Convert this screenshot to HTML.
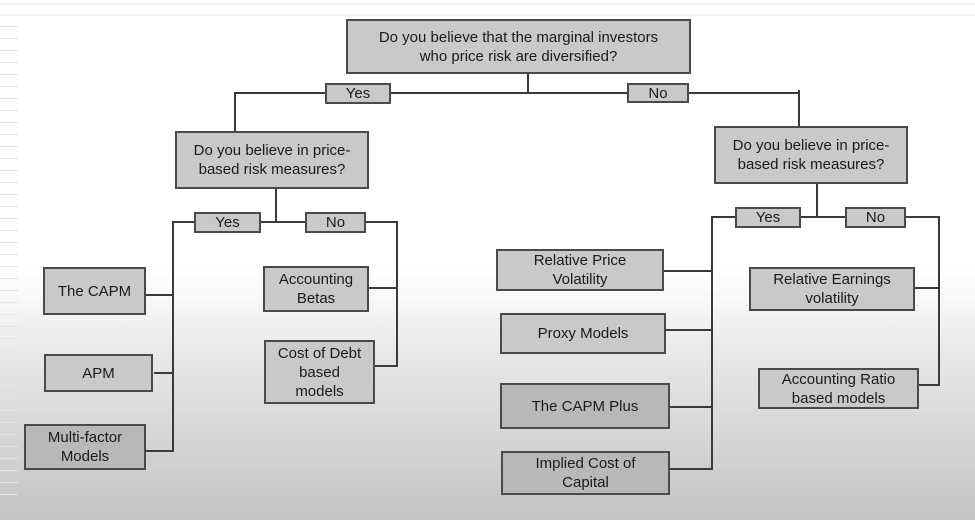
<!DOCTYPE html>
<html><head><meta charset="utf-8"><style>
html,body{margin:0;padding:0}
body{width:975px;height:520px;position:relative;overflow:hidden;font-family:"Liberation Sans",sans-serif;
background:linear-gradient(to bottom,#fff 0px,#fff 270px,#e2e2e2 380px,#c4c4c4 520px)}
.b{position:absolute;box-sizing:border-box;border:2px solid #4a4a4a;background:#c9c9c9;display:flex;align-items:center;justify-content:center;text-align:center;font-size:15px;line-height:19px;color:#1a1a1a}
.d{background:#b8b8b8}
.l{position:absolute;background:#3a3a3a}
.s{position:absolute;left:0;width:18px;height:1px;background:#e4e4e4}
</style></head><body>
<div style="position:absolute;left:0;top:3px;width:975px;height:2px;background:#efefef"></div>
<div style="position:absolute;left:0;top:14px;width:975px;height:2px;background:#f2f2f2"></div>
<div class="s" style="top:26px"></div><div class="s" style="top:38px"></div><div class="s" style="top:50px"></div><div class="s" style="top:62px"></div><div class="s" style="top:74px"></div><div class="s" style="top:86px"></div><div class="s" style="top:98px"></div><div class="s" style="top:110px"></div><div class="s" style="top:122px"></div><div class="s" style="top:134px"></div><div class="s" style="top:146px"></div><div class="s" style="top:158px"></div><div class="s" style="top:170px"></div><div class="s" style="top:182px"></div><div class="s" style="top:194px"></div><div class="s" style="top:206px"></div><div class="s" style="top:218px"></div><div class="s" style="top:230px"></div><div class="s" style="top:242px"></div><div class="s" style="top:254px"></div><div class="s" style="top:266px"></div><div class="s" style="top:278px"></div><div class="s" style="top:290px"></div><div class="s" style="top:302px"></div><div class="s" style="top:314px"></div><div class="s" style="top:326px"></div><div class="s" style="top:338px"></div><div class="s" style="top:350px"></div><div class="s" style="top:362px"></div><div class="s" style="top:374px"></div><div class="s" style="top:386px"></div><div class="s" style="top:398px"></div><div class="s" style="top:410px"></div><div class="s" style="top:422px"></div><div class="s" style="top:434px"></div><div class="s" style="top:446px"></div><div class="s" style="top:458px"></div><div class="s" style="top:470px"></div><div class="s" style="top:482px"></div><div class="s" style="top:494px"></div>

<!-- lines -->
<div class="l" style="left:527px;top:73px;width:2px;height:20px"></div>
<div class="l" style="left:234px;top:92px;width:566px;height:2px"></div>
<div class="l" style="left:234px;top:92px;width:2px;height:40px"></div>
<div class="l" style="left:798px;top:90px;width:2px;height:37px"></div>
<div class="l" style="left:798px;top:90px;width:2px;height:3px"></div>

<div class="l" style="left:275px;top:188px;width:2px;height:34px"></div>
<div class="l" style="left:172px;top:221px;width:225px;height:2px"></div>
<div class="l" style="left:172px;top:221px;width:2px;height:231px"></div>
<div class="l" style="left:396px;top:221px;width:2px;height:146px"></div>
<div class="l" style="left:145px;top:294px;width:28px;height:2px"></div>
<div class="l" style="left:154px;top:372px;width:19px;height:2px"></div>
<div class="l" style="left:145px;top:450px;width:29px;height:2px"></div>
<div class="l" style="left:368px;top:287px;width:29px;height:2px"></div>
<div class="l" style="left:374px;top:365px;width:23px;height:2px"></div>

<div class="l" style="left:816px;top:183px;width:2px;height:34px"></div>
<div class="l" style="left:712px;top:216px;width:228px;height:2px"></div>
<div class="l" style="left:711px;top:216px;width:2px;height:254px"></div>
<div class="l" style="left:938px;top:216px;width:2px;height:170px"></div>
<div class="l" style="left:663px;top:270px;width:49px;height:2px"></div>
<div class="l" style="left:665px;top:329px;width:47px;height:2px"></div>
<div class="l" style="left:669px;top:406px;width:43px;height:2px"></div>
<div class="l" style="left:669px;top:468px;width:43px;height:2px"></div>
<div class="l" style="left:914px;top:287px;width:25px;height:2px"></div>
<div class="l" style="left:918px;top:384px;width:21px;height:2px"></div>

<!-- boxes -->
<div class="b" style="left:346px;top:19px;width:345px;height:55px">Do you believe that the marginal investors<br>who price risk are diversified?</div>
<div class="b" style="left:325px;top:83px;width:66px;height:21px">Yes</div>
<div class="b" style="left:627px;top:83px;width:62px;height:20px">No</div>

<div class="b" style="left:175px;top:131px;width:194px;height:58px">Do you believe in price-<br>based risk measures?</div>
<div class="b" style="left:194px;top:212px;width:67px;height:21px">Yes</div>
<div class="b" style="left:305px;top:212px;width:61px;height:21px">No</div>

<div class="b" style="left:43px;top:267px;width:103px;height:48px">The CAPM</div>
<div class="b" style="left:44px;top:354px;width:109px;height:38px">APM</div>
<div class="b d" style="left:24px;top:424px;width:122px;height:46px">Multi-factor<br>Models</div>
<div class="b" style="left:263px;top:266px;width:106px;height:46px">Accounting<br>Betas</div>
<div class="b" style="left:264px;top:340px;width:111px;height:64px">Cost of Debt<br>based<br>models</div>

<div class="b" style="left:714px;top:126px;width:194px;height:58px">Do you believe in price-<br>based risk measures?</div>
<div class="b" style="left:735px;top:207px;width:66px;height:21px">Yes</div>
<div class="b" style="left:845px;top:207px;width:61px;height:21px">No</div>

<div class="b" style="left:496px;top:249px;width:168px;height:42px">Relative Price<br>Volatility</div>
<div class="b" style="left:500px;top:313px;width:166px;height:41px">Proxy Models</div>
<div class="b d" style="left:500px;top:383px;width:170px;height:46px">The CAPM Plus</div>
<div class="b d" style="left:501px;top:451px;width:169px;height:44px">Implied Cost of<br>Capital</div>
<div class="b" style="left:749px;top:267px;width:166px;height:44px">Relative Earnings<br>volatility</div>
<div class="b" style="left:758px;top:368px;width:161px;height:41px">Accounting Ratio<br>based models</div>
</body></html>
